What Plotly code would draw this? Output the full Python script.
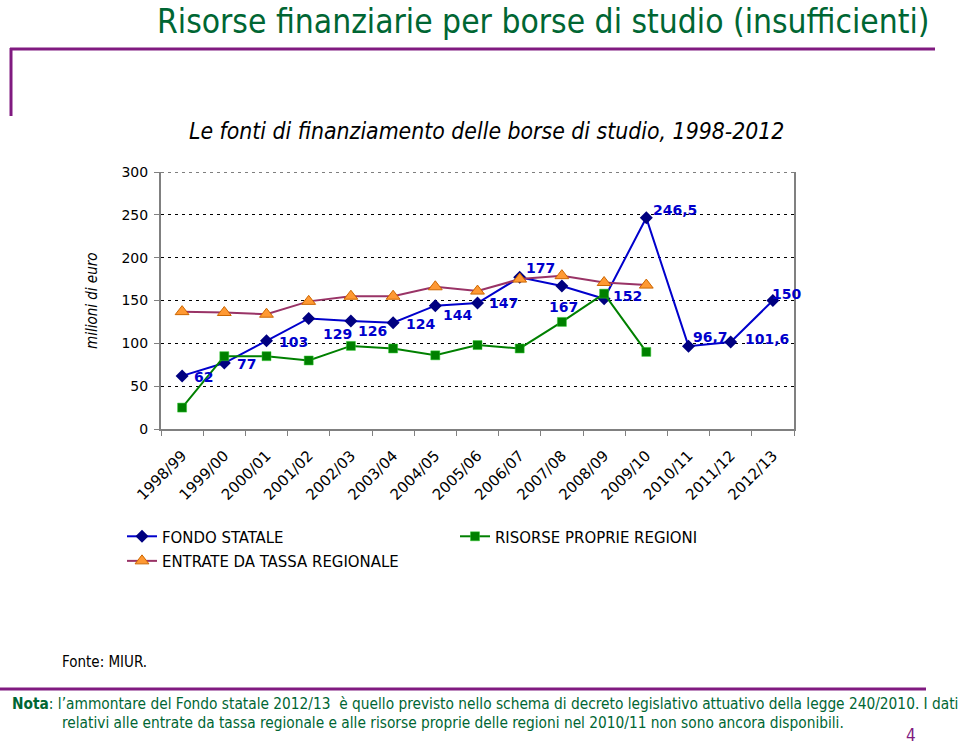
import plotly.graph_objects as go

# ---------------- data ----------------
categories = ["1998/99", "1999/00", "2000/01", "2001/02", "2002/03", "2003/04",
              "2004/05", "2005/06", "2006/07", "2007/08", "2008/09", "2009/10",
              "2010/11", "2011/12", "2012/13"]
fondo_statale = [62, 77, 103, 129, 126, 124, 144, 147, 177, 167, 152, 246.5, 96.7, 101.6, 150]
risorse_proprie_regioni = [25, 85, 85, 80, 97, 94, 86, 98, 94, 125, 158, 90, None, None, None]
entrate_tassa_regionale = [137, 136, 134, 149, 155, 155, 166, 161, 175, 179, 171, 168, None, None, None]
y_tick_values = [0, 50, 100, 150, 200, 250, 300]

# label offsets (px, right / down) for the FONDO STATALE data labels
label_offsets = [(21, 1), (22, 1), (27, 1), (29, 16), (22, 10), (27, 1), (22, 9), (26, 0),
                 (21, -9), (2, 21), (23, -3), (29, -8), (22, -9), (36, -3), (14, -7)]

# ---------------- layout geometry ----------------
W, H = 960, 746
PL, PR, PT, PB = 161, 794, 172, 429


def px(x):
    return (x - PL) / (PR - PL)


def py(y):
    return (PB - y) / (PB - PT)


PURPLE = "#801A80"
GREEN_TXT = "#006633"
COND = "DejaVu Sans Condensed, DejaVu Sans, sans-serif"
VERD = "DejaVu Sans, Verdana, sans-serif"

fig = go.Figure()

fig.add_trace(go.Scatter(
    x=categories, y=fondo_statale, name="FONDO STATALE", mode="lines+markers",
    line=dict(color="#0000CC", width=2),
    marker=dict(symbol="diamond", size=10, color="#000080", line=dict(width=0)),
))
fig.add_trace(go.Scatter(
    x=categories, y=risorse_proprie_regioni, name="RISORSE PROPRIE REGIONI", mode="lines+markers",
    line=dict(color="#008000", width=2),
    marker=dict(symbol="square", size=9, color="#008000", line=dict(width=0.5, color="#33CC33")),
))
fig.add_trace(go.Scatter(
    x=categories, y=entrate_tassa_regionale, name="ENTRATE DA TASSA REGIONALE", mode="lines+markers",
    line=dict(color="#993366", width=2),
    marker=dict(symbol="triangle-up", size=12, color="#FF9933", line=dict(width=1, color="#CC6600")),
))


def fmt(v):
    if float(v).is_integer():
        return str(int(v))
    return str(v).replace(".", ",")


annotations = []
for cat, v, (dx, dy) in zip(categories, fondo_statale, label_offsets):
    annotations.append(dict(
        x=cat, y=v, xref="x", yref="y", text="<b>" + fmt(v) + "</b>", showarrow=False,
        xanchor="center", yanchor="middle", xshift=dx, yshift=-dy,
        font=dict(family=VERD, size=14, color="#0000CC"),
    ))

# titles and notes
annotations += [
    dict(x=px(932), y=py(21), xref="paper", yref="paper", xanchor="right", yanchor="middle",
         text="Risorse finanziarie per borse di studio (insufficienti)", showarrow=False,
         font=dict(family=COND, size=33.3, color=GREEN_TXT)),
    dict(x=px(486), y=py(131), xref="paper", yref="paper", xanchor="center", yanchor="middle",
         text="<i>Le fonti di finanziamento delle borse di studio, 1998-2012</i>", showarrow=False,
         font=dict(family=COND, size=22.8, color="#000000")),
    dict(x=px(92), y=py(301), xref="paper", yref="paper", xanchor="center", yanchor="middle",
         text="<i>milioni di euro</i>", textangle=-90, showarrow=False,
         font=dict(family=COND, size=15, color="#000000")),
    dict(x=px(60), y=py(662), xref="paper", yref="paper", xanchor="left", yanchor="middle",
         text="Fonte: MIUR.", showarrow=False,
         font=dict(family=COND, size=15, color="#000000")),
    dict(x=px(10), y=py(704), xref="paper", yref="paper", xanchor="left", yanchor="middle",
         text="<b>Nota</b>: l’ammontare del Fondo statale 2012/13  è quello previsto nello schema di decreto legislativo attuativo della legge 240/2010. I dati",
         showarrow=False, font=dict(family=COND, size=15.3, color=GREEN_TXT)),
    dict(x=px(60), y=py(723), xref="paper", yref="paper", xanchor="left", yanchor="middle",
         text="relativi alle entrate da tassa regionale e alle risorse proprie delle regioni nel 2010/11 non sono ancora disponibili.",
         showarrow=False, font=dict(family=COND, size=15.3, color=GREEN_TXT)),
    dict(x=px(911), y=py(735), xref="paper", yref="paper", xanchor="center", yanchor="middle",
         text="4", showarrow=False, font=dict(family=COND, size=17, color=PURPLE)),
]

shapes = [
    dict(type="line", xref="paper", yref="paper", x0=px(10), x1=px(935), y0=py(49), y1=py(49),
         line=dict(color=PURPLE, width=3)),
    dict(type="line", xref="paper", yref="paper", x0=px(11), x1=px(11), y0=py(48), y1=py(116),
         line=dict(color=PURPLE, width=3)),
    dict(type="line", xref="paper", yref="paper", x0=px(0), x1=px(926), y0=py(689), y1=py(689),
         line=dict(color=PURPLE, width=3)),
    # top gridline (300) of the plot area, dotted like the other gridlines
    dict(type="line", xref="paper", yref="y", x0=0, x1=1, y0=y_tick_values[-1], y1=y_tick_values[-1],
         line=dict(color="#000000", width=1, dash="3px,4px"), layer="below"),
]

fig.update_layout(
    width=W, height=H,
    margin=dict(l=PL, r=W - PR, t=PT, b=H - PB, autoexpand=False),
    paper_bgcolor="white", plot_bgcolor="white",
    showlegend=True,
    legend=dict(orientation="h", x=px(122), y=py(519), xanchor="left", yanchor="top",
                entrywidth=288, entrywidthmode="pixels", traceorder="normal",
                font=dict(family=COND, size=16.6, color="#000000"),
                bgcolor="rgba(0,0,0,0)", borderwidth=0),
    annotations=annotations,
    shapes=shapes,
    xaxis=dict(
        type="category", categoryorder="array", categoryarray=categories,
        range=[-0.5, len(categories) - 0.5],
        showline=True, linecolor="#808080", linewidth=2, mirror=False,
        ticks="outside", ticklen=5, tickcolor="#808080", tickwidth=1, tickson="boundaries",
        tickangle=-45, showgrid=False, zeroline=False, ticklabelstandoff=10,
        tickfont=dict(family=VERD, size=15, color="#000000"),
    ),
    yaxis=dict(
        range=[0, 300], tickmode="array", tickvals=y_tick_values,
        showline=True, linecolor="#808080", linewidth=2, mirror=True,
        ticks="outside", ticklen=5, tickcolor="#808080", tickwidth=1,
        showgrid=True, gridcolor="#000000", gridwidth=1, griddash="3px,4px",
        zeroline=False, ticklabelstandoff=3,
        tickfont=dict(family=VERD, size=14, color="#000000"),
    ),
)

fig.write_html("out.html")
